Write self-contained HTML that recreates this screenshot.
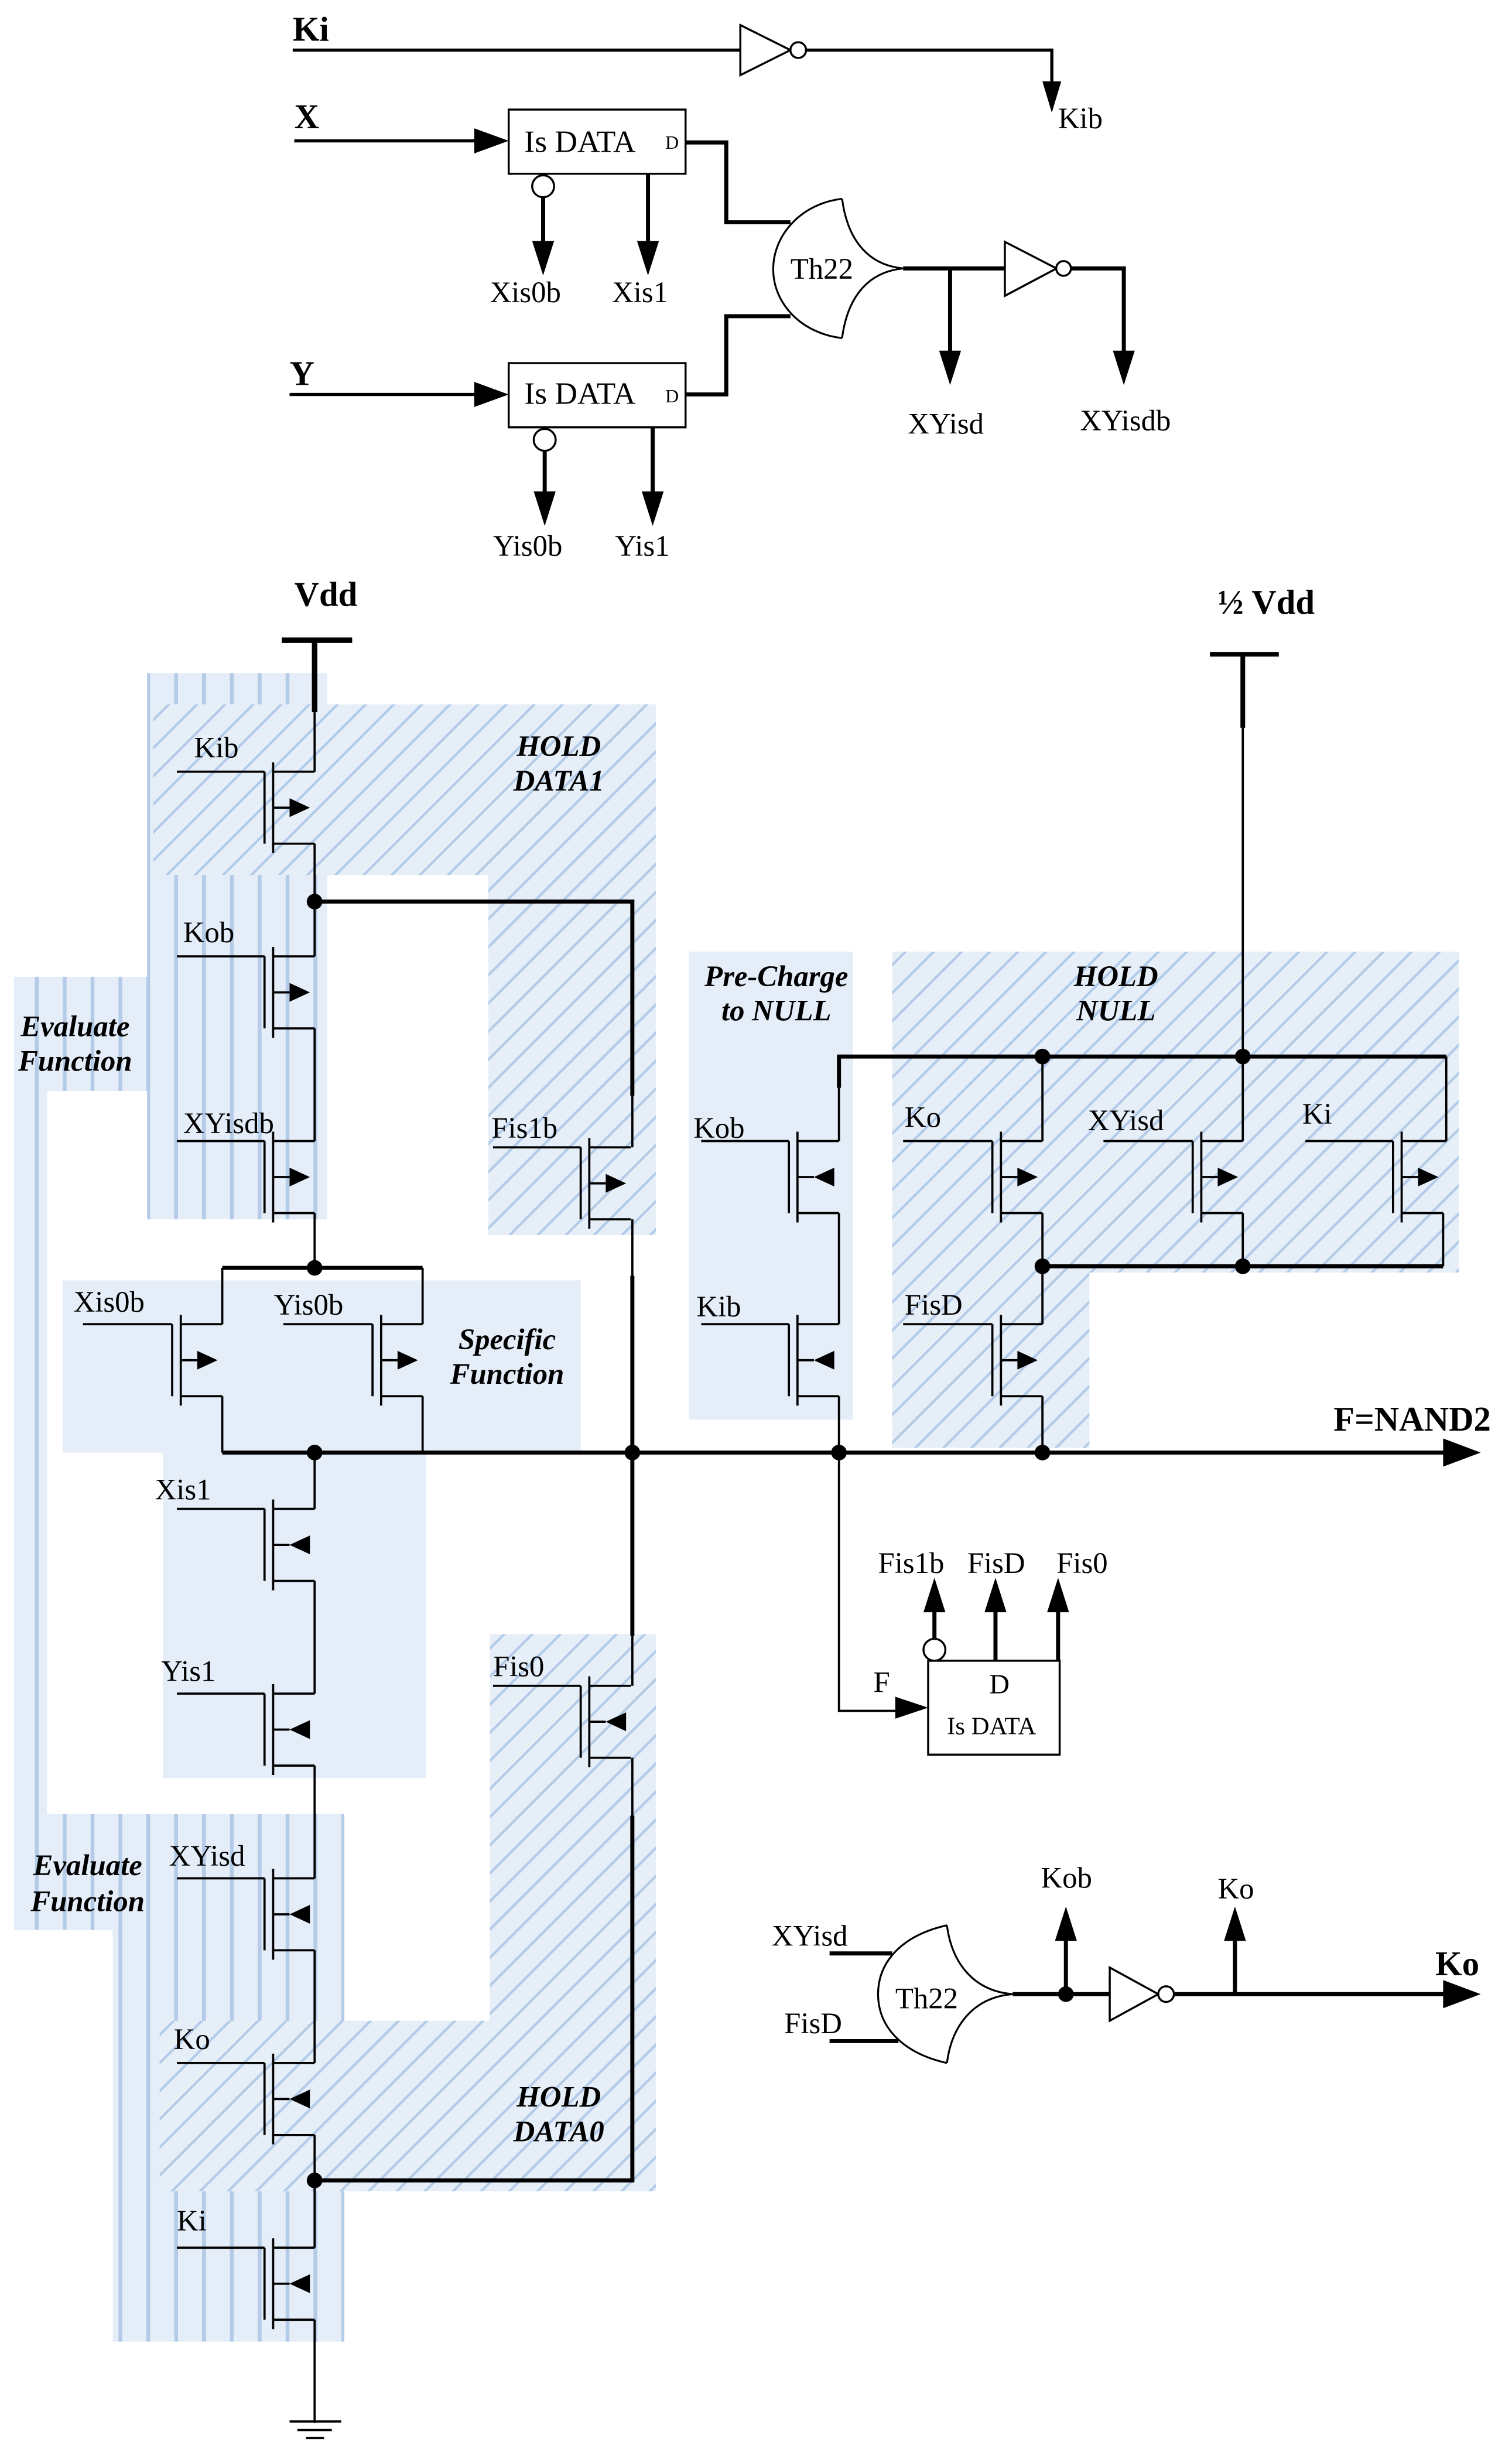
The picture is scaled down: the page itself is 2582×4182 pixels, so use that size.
<!DOCTYPE html>
<html><head><meta charset="utf-8"><style>
html,body{margin:0;padding:0;background:#fff;}
svg{display:block;}
text{font-family:"Liberation Serif",serif;fill:#000;}
.l{font-size:19px;}
.b{font-size:22px;font-weight:bold;}
.r{font-size:19px;font-weight:bold;font-style:italic;text-anchor:middle;}
.w{stroke:#000;fill:none;stroke-width:1.4;}
.t{stroke:#000;fill:none;stroke-width:2.6;}
</style></head><body>
<svg width="2582" height="4182" viewBox="0 0 966 1564.6" preserveAspectRatio="none" xmlns="http://www.w3.org/2000/svg">
<defs>
<pattern id="vs" x="93.5" y="0" width="17.8" height="10" patternUnits="userSpaceOnUse"><rect x="0" y="0" width="2.4" height="10" fill="#b4cbe7"/></pattern>
<pattern id="dh" width="12.7" height="12.7" patternUnits="userSpaceOnUse" patternTransform="rotate(45)"><rect x="0" y="0" width="1.6" height="12.7" fill="#b3cbe8"/></pattern>
<g id="tR"><path d="M0,0V46 M5.5,-6V52 M5.5,0H32 M5.5,46H32 M5.5,23H16" stroke="#000" stroke-width="1.4" fill="none"/><polygon points="16,17 16,29 29,23" fill="#000"/></g>
<g id="tL"><path d="M0,0V46 M5.5,-6V52 M5.5,0H32 M5.5,46H32 M5.5,23H16" stroke="#000" stroke-width="1.4" fill="none"/><polygon points="29,17 29,29 16,23" fill="#000"/></g>
</defs>

<!-- regions -->
<g fill="#e4edf8">
<path d="M94,430H209V779H94Z M9,624H94V697H30V1159H220V1496H72V1233H9Z"/>
<path d="M40,818H371V928H272V1136H104V928H40Z"/>
<rect x="440" y="608" width="105" height="299"/>
</g>
<path d="M94,430H209V779H94Z M9,624H94V697H30V1159H220V1496H72V1233H9Z" fill="url(#vs)"/>
<g>
<path d="M98,450H419V789H312V559H98Z" fill="#e6eef8"/>
<path d="M98,450H419V789H312V559H98Z" fill="url(#dh)"/>
<path d="M313,1044H419V1400H102V1291H313Z" fill="#e6eef8"/>
<path d="M313,1044H419V1400H102V1291H313Z" fill="url(#dh)"/>
<path d="M570,608H932V813H696V925H570Z" fill="#e6eef8"/>
<path d="M570,608H932V813H696V925H570Z" fill="url(#dh)"/>
</g>

<!-- TOP SECTION -->
<text class="b" x="187" y="26">Ki</text>
<path class="w" style="stroke-width:2" d="M187,32H473 M515,32H672V52"/>
<polygon points="473,16 473,48 505,32" fill="#fff" stroke="#000" stroke-width="1.3"/>
<circle cx="510" cy="32" r="5" fill="#fff" stroke="#000" stroke-width="1.3"/>
<polygon points="666,52 678,52 672,72" fill="#000"/>
<text class="l" x="676" y="82">Kib</text>

<text class="b" x="188" y="82">X</text>
<path class="w" style="stroke-width:2" d="M188,90H305"/>
<polygon points="303,82 303,98 325,90" fill="#000"/>
<rect x="325" y="70" width="113" height="41" fill="#fff" stroke="#000" stroke-width="1.3"/>
<text x="335" y="97" style="font-size:20px">Is DATA</text>
<text x="425" y="95" style="font-size:12px">D</text>
<circle cx="347" cy="119" r="7" fill="#fff" stroke="#000" stroke-width="1.3"/>
<path class="t" d="M347,126V156 M414,111V156"/>
<polygon points="340,154 354,154 347,176" fill="#000"/>
<polygon points="407,154 421,154 414,176" fill="#000"/>
<text class="l" x="313" y="193">Xis0b</text>
<text class="l" x="391" y="193">Xis1</text>

<text class="b" x="185" y="246">Y</text>
<path class="w" style="stroke-width:2" d="M185,252H305"/>
<polygon points="303,244 303,260 325,252" fill="#000"/>
<rect x="325" y="232" width="113" height="41" fill="#fff" stroke="#000" stroke-width="1.3"/>
<text x="335" y="258" style="font-size:20px">Is DATA</text>
<text x="425" y="257" style="font-size:12px">D</text>
<circle cx="348" cy="281" r="7" fill="#fff" stroke="#000" stroke-width="1.3"/>
<path class="t" d="M348,288V316 M417,273V316"/>
<polygon points="341,314 355,314 348,336" fill="#000"/>
<polygon points="410,314 424,314 417,336" fill="#000"/>
<text class="l" x="315" y="355">Yis0b</text>
<text class="l" x="393" y="355">Yis1</text>

<path class="t" d="M438,91H464V142H505 M438,252H464V202H505"/>
<path class="w" style="stroke-width:1.2" d="M538,127C512,130 494,150 494,172C494,194 512,213 538,216 M538,127C541,150 552,169 577,171.5 M538,216C541,193 552,174 577,171.5"/>
<text x="505" y="178" style="font-size:19px">Th22</text>
<path class="t" d="M577,171.5H642 M607,171.5V226 M684,171.5H718V226"/>
<polygon points="642,154.5 642,189 675,171.5" fill="#fff" stroke="#000" stroke-width="1.3"/>
<circle cx="679.5" cy="171.5" r="4.7" fill="#fff" stroke="#000" stroke-width="1.3"/>
<polygon points="600,224 614,224 607,246" fill="#000"/>
<polygon points="711,224 725,224 718,246" fill="#000"/>
<text class="l" x="580" y="277">XYisd</text>
<text class="l" x="690" y="275">XYisdb</text>

<!-- POWER -->
<text class="b" x="188" y="387">Vdd</text>
<path class="t" style="stroke-width:3.5" d="M180,409H225 M201,409V455"/>
<text class="b" x="778" y="392">½ Vdd</text>
<path class="t" style="stroke-width:3" d="M773,418H817 M794,418V465"/>
<path class="w" d="M794,465V675"/>

<!-- LEFT CHAIN TRANSISTORS -->
<use href="#tR" x="169" y="493"/><use href="#tR" x="169" y="611"/><use href="#tR" x="169" y="729"/>
<use href="#tL" x="169" y="964"/><use href="#tL" x="169" y="1082"/><use href="#tL" x="169" y="1200"/>
<use href="#tL" x="169" y="1318"/><use href="#tL" x="169" y="1436"/>
<path class="w" d="M113,493H169 M113,611H169 M113,729H169 M113,964H169 M113,1082H169 M113,1200H169 M113,1318H169 M113,1436H169"/>
<path class="w" d="M201,455V493 M201,539V611 M201,657V729 M201,775V810 M201,928V964 M201,1010V1082 M201,1128V1200 M201,1246V1318 M201,1364V1436 M201,1482V1548"/>
<path class="w" d="M185,1547H218 M190,1552.5H212 M195.5,1557.6H207"/>
<text class="l" x="124" y="484">Kib</text>
<text class="l" x="117" y="602">Kob</text>
<text class="l" x="117" y="724">XYisdb</text>
<text class="l" x="99" y="958">Xis1</text>
<text class="l" x="103" y="1074">Yis1</text>
<text class="l" x="108" y="1192">XYisd</text>
<text class="l" x="111" y="1309">Ko</text>
<text class="l" x="113" y="1425">Ki</text>

<!-- specific -->
<use href="#tR" x="110" y="846"/><use href="#tR" x="238" y="846"/>
<path class="w" d="M53,846H110 M181,846H238 M142,810V846 M270,810V846 M142,892V928 M270,892V928"/>
<path class="t" d="M142,810H270"/>
<text class="l" x="47" y="838">Xis0b</text>
<text class="l" x="175" y="840">Yis0b</text>

<!-- HOLD DATA1 / DATA0 -->
<use href="#tR" x="371" y="733"/><use href="#tL" x="371" y="1077"/>
<path class="w" d="M315,733H371 M315,1077H371 M404,700V733 M404,779V815 M404,1045V1077 M404,1123V1160"/>
<path class="t" d="M201,576H404V700 M404,815V1045 M404,1160V1393H201"/>
<text class="l" x="314" y="727">Fis1b</text>
<text class="l" x="315" y="1071">Fis0</text>

<!-- F line -->
<path class="t" d="M142,928H925"/>
<polygon points="922,919 922,937 946,928" fill="#000"/>
<text class="b" x="852" y="914">F=NAND2</text>

<!-- precharge -->
<use href="#tL" x="504" y="729"/><use href="#tL" x="504" y="846"/>
<path class="w" d="M448,729H504 M448,846H504 M536,695V729 M536,775V846 M536,892V1093H574"/>
<path class="t" d="M536,695V675H924"/>
<text class="l" x="443" y="727">Kob</text>
<text class="l" x="445" y="841">Kib</text>

<!-- hold null -->
<use href="#tR" x="634" y="729"/><use href="#tR" x="762" y="729"/><use href="#tR" x="890" y="729"/><use href="#tR" x="634" y="846"/>
<path class="w" d="M577,729H634 M705,729H762 M834,729H890 M577,846H634 M666,675V729 M794,675V729 M924,675V729 M922,729H924 M666,775V846 M794,775V809 M922,775V809 M666,892V928"/>
<path class="t" d="M666,809H922"/>
<text class="l" x="578" y="720">Ko</text>
<text class="l" x="695" y="722">XYisd</text>
<text class="l" x="832" y="718">Ki</text>
<text class="l" x="578" y="840">FisD</text>

<!-- dots -->
<g fill="#000">
<circle cx="201" cy="576" r="5"/><circle cx="201" cy="810" r="5"/><circle cx="201" cy="928" r="5"/>
<circle cx="404" cy="928" r="5"/><circle cx="536" cy="928" r="5"/><circle cx="666" cy="928" r="5"/>
<circle cx="201" cy="1393" r="5"/><circle cx="666" cy="675" r="5"/><circle cx="794" cy="675" r="5"/>
<circle cx="666" cy="809" r="5"/><circle cx="794" cy="809" r="5"/>
</g>

<!-- Is DATA lower -->
<polygon points="572,1084 572,1098 593,1091" fill="#000"/>
<rect x="593" y="1061" width="84" height="60" fill="#fff" stroke="#000" stroke-width="1.3"/>
<text class="l" x="558" y="1081">F</text>
<text x="632" y="1082" style="font-size:18px">D</text>
<text x="605" y="1108" style="font-size:16px">Is DATA</text>
<circle cx="597" cy="1054" r="7" fill="#fff" stroke="#000" stroke-width="1.3"/>
<path class="t" d="M597,1047V1028 M636,1061V1028 M676,1061V1028"/>
<polygon points="590,1030 604,1030 597,1008" fill="#000"/>
<polygon points="629,1030 643,1030 636,1008" fill="#000"/>
<polygon points="669,1030 683,1030 676,1008" fill="#000"/>
<text class="l" x="561" y="1005">Fis1b</text>
<text class="l" x="618" y="1005">FisD</text>
<text class="l" x="675" y="1005">Fis0</text>

<!-- bottom Th22 -->
<text class="l" x="493" y="1243">XYisd</text>
<text class="l" x="501" y="1299">FisD</text>
<path class="t" d="M530,1248H570 M530,1304H574"/>
<path class="w" style="stroke-width:1.2" d="M605,1230C578,1236 561,1252 561,1274C561,1296 578,1312 605,1318 M605,1230C608,1254 622,1272 647,1274 M605,1318C608,1294 622,1276 647,1274"/>
<text x="572" y="1283" style="font-size:19px">Th22</text>
<path class="t" d="M647,1274H709 M681,1274V1240 M750,1274H925 M789,1274V1240"/>
<circle cx="681" cy="1274" r="5" fill="#000"/>
<polygon points="674,1240 688,1240 681,1218" fill="#000"/>
<polygon points="782,1240 796,1240 789,1218" fill="#000"/>
<polygon points="709,1257 709,1291 740,1274" fill="#fff" stroke="#000" stroke-width="1.3"/>
<circle cx="745" cy="1274" r="5" fill="#fff" stroke="#000" stroke-width="1.3"/>
<polygon points="922,1265 922,1283 946,1274" fill="#000"/>
<text class="l" x="665" y="1206">Kob</text>
<text class="l" x="778" y="1213">Ko</text>
<text class="b" x="917" y="1262">Ko</text>

<!-- region labels -->
<text class="r" x="357" y="483">HOLD</text><text class="r" x="357" y="505">DATA1</text>
<text class="r" x="48" y="662">Evaluate</text><text class="r" x="48" y="684">Function</text>
<text class="r" x="324" y="862">Specific</text><text class="r" x="324" y="884">Function</text>
<text class="r" x="496" y="630">Pre-Charge</text><text class="r" x="496" y="652">to NULL</text>
<text class="r" x="713" y="630">HOLD</text><text class="r" x="713" y="652">NULL</text>
<text class="r" x="56" y="1198">Evaluate</text><text class="r" x="56" y="1221">Function</text>
<text class="r" x="357" y="1346">HOLD</text><text class="r" x="357" y="1368">DATA0</text>
</svg>
</body></html>
